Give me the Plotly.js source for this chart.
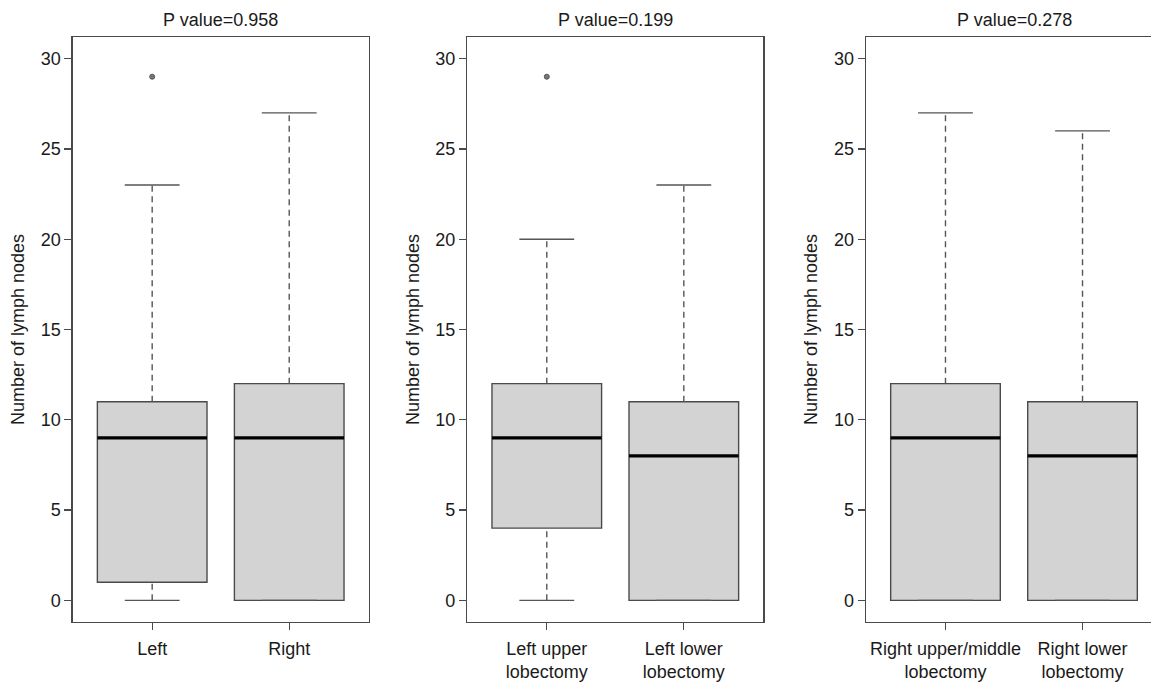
<!DOCTYPE html>
<html>
<head>
<meta charset="utf-8">
<script src="https://cdn.plot.ly/plotly-3.0.1.min.js"></script>
<style>
html,body{margin:0;padding:0;overflow:hidden;background:#fff;}
#chart{width:1170px;height:682px;}
</style>
</head>
<body>
<div id="chart"></div>
<script>
// ---- data ----
const pTitles = ['P value=0.958', 'P value=0.199', 'P value=0.278'];
const yTitle = 'Number of lymph nodes';
const yTicks = [0, 5, 10, 15, 20, 25, 30];

const cats1 = ['Left', 'Right'];
const low1 = [0, 0];
const q1_1 = [1, 0];
const med1 = [9, 9];
const q3_1 = [11, 12];
const up1 = [23, 27];
const out1 = [[29], []];

const cats2 = ['Left upper<br>lobectomy', 'Left lower<br>lobectomy'];
const low2 = [0, 0];
const q1_2 = [4, 0];
const med2 = [9, 8];
const q3_2 = [12, 11];
const up2 = [20, 23];
const out2 = [[29], []];

const cats3 = ['Right upper/middle<br>lobectomy', 'Right lower<br>lobectomy'];
const low3 = [0, 0];
const q1_3 = [0, 0];
const med3 = [9, 8];
const q3_3 = [12, 11];
const up3 = [27, 26];
const out3 = [[], []];

// ---- styling / layout ----
const W = 1170, H = 682;
const FONT = 'Liberation Sans, Arial, Helvetica, sans-serif';
const TXT = '#1a1a1a';
const EDGE = '#4a4a4a';
const FS = 18;
const panelLeft = [72.7, 467.3, 866];
const panelWidth = 296;
const plotTop = 37, plotBottom = 621.7;

const panels = [
  {cats: cats1, low: low1, q1: q1_1, med: med1, q3: q3_1, up: up1, out: out1},
  {cats: cats2, low: low2, q1: q1_2, med: med2, q3: q3_2, up: up2, out: out2},
  {cats: cats3, low: low3, q1: q1_3, med: med3, q3: q3_3, up: up3, out: out3}
];

const traces = [];
const layout = {
  width: W, height: H,
  margin: {l: 0, r: 0, t: plotTop, b: H - plotBottom},
  paper_bgcolor: '#fff', plot_bgcolor: '#fff',
  showlegend: false,
  font: {family: FONT, size: FS, color: TXT},
  annotations: []
};

const boxW = 0.8, stapleHalf = 0.2;

panels.forEach((p, i) => {
  const n = i + 1;
  const xa = n === 1 ? 'x' : 'x' + n;
  const ya = n === 1 ? 'y' : 'y' + n;
  const pos = p.cats.map((_, k) => k + 1);

  traces.push({
    type: 'box', xaxis: xa, yaxis: ya,
    x: pos, q1: p.q1, median: p.med, q3: p.q3,
    lowerfence: p.q1, upperfence: p.q3,
    width: boxW, whiskerwidth: 0,
    fillcolor: '#d3d3d3',
    line: {color: EDGE, width: 1.4},
    boxpoints: false, hoverinfo: 'skip'
  });

  pos.forEach((c, k) => {
    // dashed whiskers
    traces.push({
      type: 'scatter', mode: 'lines', xaxis: xa, yaxis: ya,
      x: [c, c, null, c, c], y: [p.q3[k], p.up[k], null, p.low[k], p.q1[k]],
      line: {color: '#555', width: 1.4, dash: '6px,4.5px'}, hoverinfo: 'skip'
    });
    // staples
    traces.push({
      type: 'scatter', mode: 'lines', xaxis: xa, yaxis: ya,
      x: [c - stapleHalf, c + stapleHalf, null, c - stapleHalf, c + stapleHalf],
      y: [p.up[k], p.up[k], null, p.low[k], p.low[k]],
      line: {color: '#555', width: 1.4}, hoverinfo: 'skip'
    });
    // median
    traces.push({
      type: 'scatter', mode: 'lines', xaxis: xa, yaxis: ya,
      x: [c - boxW / 2, c + boxW / 2], y: [p.med[k], p.med[k]],
      line: {color: '#000', width: 3.2}, hoverinfo: 'skip'
    });
    // outliers
    if (p.out[k].length) {
      traces.push({
        type: 'scatter', mode: 'markers', xaxis: xa, yaxis: ya,
        x: p.out[k].map(() => c), y: p.out[k],
        marker: {size: 5, color: '#777', line: {color: '#555', width: 1}}, hoverinfo: 'skip'
      });
    }
  });

  const x0 = panelLeft[i] / W, x1 = (panelLeft[i] + panelWidth) / W;
  layout[n === 1 ? 'xaxis' : 'xaxis' + n] = {
    domain: [x0, x1], anchor: ya,
    range: [0.42, 2.58], tickvals: pos, ticktext: p.cats,
    ticks: 'outside', ticklen: 7, tickwidth: 1.3, tickcolor: EDGE,
    ticklabelstandoff: 3,
    showline: true, mirror: true, linecolor: EDGE, linewidth: 1.4,
    showgrid: false, zeroline: false, fixedrange: true,
    tickfont: {family: FONT, size: FS, color: TXT}
  };
  layout[n === 1 ? 'yaxis' : 'yaxis' + n] = {
    domain: [0, 1], anchor: xa,
    range: [-1.2, 31.2], tickvals: yTicks,
    ticks: 'outside', ticklen: 7, tickwidth: 1.3, tickcolor: EDGE,
    showline: true, mirror: true, linecolor: EDGE, linewidth: 1.4,
    showgrid: false, zeroline: false, fixedrange: true,
    tickfont: {family: FONT, size: FS, color: TXT},
    title: {text: yTitle, font: {family: FONT, size: FS, color: TXT}, standoff: 11}
  };
  layout.annotations.push({
    text: pTitles[i], showarrow: false,
    xref: xa + ' domain', yref: ya + ' domain',
    x: 0.5, y: 1 + 17 / (plotBottom - plotTop),
    xanchor: 'center', yanchor: 'middle',
    font: {family: FONT, size: FS, color: TXT}
  });
});

Plotly.newPlot('chart', traces, layout, {displayModeBar: false, staticPlot: true});
</script>
</body>
</html>
